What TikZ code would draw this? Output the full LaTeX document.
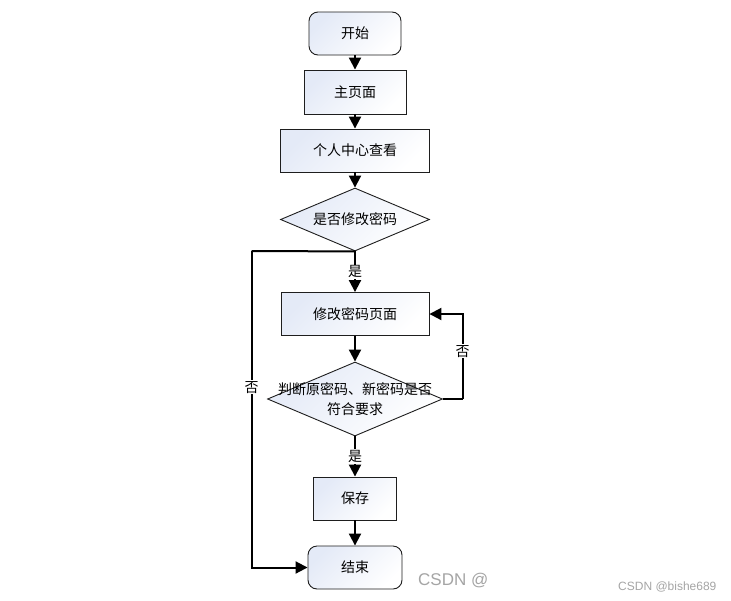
\documentclass[tikz,border=0pt]{standalone}
\usepackage{fontspec}
\setmainfont{Noto Sans CJK SC}
\newfontfamily\wmfont{Liberation Sans}
\usetikzlibrary{shapes.geometric,arrows.meta}
\definecolor{shadeblue}{RGB}{228,234,247}
\definecolor{boxline}{RGB}{30,30,30}
\definecolor{wmgray}{RGB}{165,165,165}
\tikzset{
  shadebox/.style={draw=boxline, line width=0.9pt, top color=shadeblue, bottom color=white, shading angle=45, inner sep=0pt, font=\fontsize{14}{16}\selectfont},
  procbox/.style={shadebox, rectangle},
  termbox/.style={shadebox, rectangle, rounded corners=9pt},
  decbox/.style={shadebox, diamond, aspect=2},
  conn/.style={line width=2pt, -{Triangle[width=12pt,length=12pt]}},
  plainconn/.style={line width=2pt},
  lbl/.style={fill=white, inner sep=1pt, font=\fontsize{14}{16}\selectfont}
}
\begin{document}
\begin{tikzpicture}[x=1pt,y=-1pt]
\useasboundingbox[fill=white] (0,0) rectangle (731,600);
\node[termbox, minimum width=92pt, minimum height=43pt] (start) at (355,33.5) {开始};
\node[procbox, minimum width=102pt, minimum height=44pt] (main) at (355,92) {主页面};
\node[procbox, minimum width=149pt, minimum height=43pt] (center) at (355,150.5) {个人中心查看};
\node[decbox, minimum width=149pt, minimum height=63pt,
  label={[font=\fontsize{14}{16}\selectfont]center:是否修改密码}] (d1) at (355,219.5) {};
\node[procbox, minimum width=148pt, minimum height=43pt] (edit) at (355,314) {修改密码页面};
\node[decbox, minimum width=175pt, minimum height=74pt,
  label={[font=\fontsize{14}{20}\selectfont, align=center]center:判断原密码、新密码是否\\符合要求}] (d2) at (355,399) {};
\node[procbox, minimum width=83pt, minimum height=43pt] (save) at (355,498.5) {保存};
\node[termbox, minimum width=94pt, minimum height=43pt] (end) at (355,567.5) {结束};

\coordinate (lf) at (251.5,251);
\coordinate (rt) at (462.5,399);

\draw[conn] (start) -- (main);
\draw[conn] (main) -- (center);
\draw[conn] (center) -- (d1);
\draw[conn] (d1.south) -- node[lbl, pos=0.5]{是} (edit.north);
\draw[conn] (edit) -- (d2);
\draw[conn] (d2.south) -- node[lbl, pos=0.5]{是} (save.north);
\draw[conn] (save) -- (end);
\draw[plainconn] (d1.south) -- (lf);
\draw[conn] (lf) -- node[lbl, pos=0.43]{否} (lf |- end.west) -- (end.west);
\draw[plainconn] (d2.east) -- (rt);
\draw[conn] (rt) -- node[lbl, pos=0.56]{否} (rt |- edit.east) -- (edit.east);

\node[anchor=west, text=wmgray, font=\wmfont\fontsize{17}{20}\selectfont, inner sep=0pt] (wm1) at (418,581) {CSDN @};
\node[anchor=west, text=wmgray, font=\wmfont\fontsize{12}{14}\selectfont, inner sep=0pt] (wm2) at (618,587) {CSDN @bishe689};
\end{tikzpicture}
\end{document}
